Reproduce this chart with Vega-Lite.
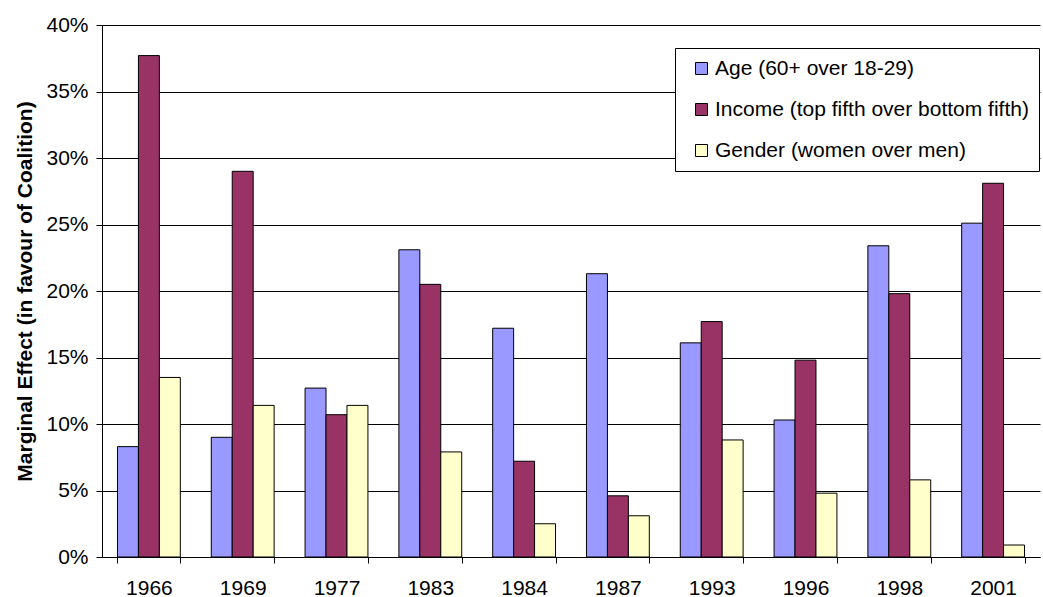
{
  "$schema": "https://vega.github.io/schema/vega-lite/v6.json",
  "autosize": "none",
  "width": 938,
  "height": 532,
  "padding": {"left": 102, "top": 25, "right": 3, "bottom": 40},
  "background": "white",
  "config": {
    "font": "Liberation Sans",
    "view": {"stroke": null},
    "axis": {"labelFont": "Liberation Sans", "titleFont": "Liberation Sans", "labelColor": "#000", "titleColor": "#000"}
  },
  "data": {
    "values": [
      {"year": "1966", "series": "Age (60+ over 18-29)", "value": 0.083},
      {"year": "1966", "series": "Income (top fifth over bottom fifth)", "value": 0.377},
      {"year": "1966", "series": "Gender (women over men)", "value": 0.135},
      {"year": "1969", "series": "Age (60+ over 18-29)", "value": 0.090},
      {"year": "1969", "series": "Income (top fifth over bottom fifth)", "value": 0.290},
      {"year": "1969", "series": "Gender (women over men)", "value": 0.114},
      {"year": "1977", "series": "Age (60+ over 18-29)", "value": 0.127},
      {"year": "1977", "series": "Income (top fifth over bottom fifth)", "value": 0.107},
      {"year": "1977", "series": "Gender (women over men)", "value": 0.114},
      {"year": "1983", "series": "Age (60+ over 18-29)", "value": 0.231},
      {"year": "1983", "series": "Income (top fifth over bottom fifth)", "value": 0.205},
      {"year": "1983", "series": "Gender (women over men)", "value": 0.079},
      {"year": "1984", "series": "Age (60+ over 18-29)", "value": 0.172},
      {"year": "1984", "series": "Income (top fifth over bottom fifth)", "value": 0.072},
      {"year": "1984", "series": "Gender (women over men)", "value": 0.025},
      {"year": "1987", "series": "Age (60+ over 18-29)", "value": 0.213},
      {"year": "1987", "series": "Income (top fifth over bottom fifth)", "value": 0.046},
      {"year": "1987", "series": "Gender (women over men)", "value": 0.031},
      {"year": "1993", "series": "Age (60+ over 18-29)", "value": 0.161},
      {"year": "1993", "series": "Income (top fifth over bottom fifth)", "value": 0.177},
      {"year": "1993", "series": "Gender (women over men)", "value": 0.088},
      {"year": "1996", "series": "Age (60+ over 18-29)", "value": 0.103},
      {"year": "1996", "series": "Income (top fifth over bottom fifth)", "value": 0.148},
      {"year": "1996", "series": "Gender (women over men)", "value": 0.048},
      {"year": "1998", "series": "Age (60+ over 18-29)", "value": 0.234},
      {"year": "1998", "series": "Income (top fifth over bottom fifth)", "value": 0.198},
      {"year": "1998", "series": "Gender (women over men)", "value": 0.058},
      {"year": "2001", "series": "Age (60+ over 18-29)", "value": 0.251},
      {"year": "2001", "series": "Income (top fifth over bottom fifth)", "value": 0.281},
      {"year": "2001", "series": "Gender (women over men)", "value": 0.009}
    ]
  },
  "mark": {"type": "bar", "stroke": "#000", "strokeWidth": 1},
  "encoding": {
    "x": {
      "field": "year",
      "type": "nominal",
      "sort": null,
      "scale": {"paddingInner": 0.33, "paddingOuter": 0.165},
      "axis": {
        "title": null,
        "labelAngle": 0,
        "labelFontSize": 21,
        "labelPadding": 14,
        "tickBand": "extent",
        "tickSize": 6,
        "tickColor": "#000",
        "domainColor": "#000",
        "grid": false
      }
    },
    "xOffset": {
      "field": "series",
      "type": "nominal",
      "sort": ["Age (60+ over 18-29)", "Income (top fifth over bottom fifth)", "Gender (women over men)"]
    },
    "y": {
      "field": "value",
      "type": "quantitative",
      "scale": {"domain": [0, 0.4], "nice": false},
      "axis": {
        "title": "Marginal Effect (in favour of Coalition)",
        "titleFontSize": 21,
        "titleFontWeight": "bold",
        "titlePadding": 10,
        "values": [0, 0.05, 0.1, 0.15, 0.2, 0.25, 0.3, 0.35, 0.4],
        "format": ".0%",
        "labelFontSize": 21,
        "labelPadding": 8,
        "tickSize": 6,
        "tickColor": "#000",
        "domainColor": "#000",
        "grid": true,
        "gridColor": "#000",
        "gridOpacity": 1,
        "gridWidth": 1
      }
    },
    "color": {
      "field": "series",
      "type": "nominal",
      "sort": ["Age (60+ over 18-29)", "Income (top fifth over bottom fifth)", "Gender (women over men)"],
      "scale": {
        "domain": ["Age (60+ over 18-29)", "Income (top fifth over bottom fifth)", "Gender (women over men)"],
        "range": ["#9999FF", "#993366", "#FFFFCC"]
      },
      "legend": {
        "title": null,
        "orient": "none",
        "legendX": 573,
        "legendY": 23,
        "fillColor": "white",
        "strokeColor": "#000",
        "cornerRadius": 0,
        "padding": 10,
        "symbolOffset": 6,
        "symbolType": "square",
        "symbolSize": 144,
        "symbolStrokeColor": "#000",
        "symbolStrokeWidth": 1,
        "labelFontSize": 21,
        "labelFont": "Liberation Sans",
        "labelColor": "#000",
        "labelOffset": 3,
        "labelLimit": 400,
        "rowPadding": 19
      }
    }
  }
}
